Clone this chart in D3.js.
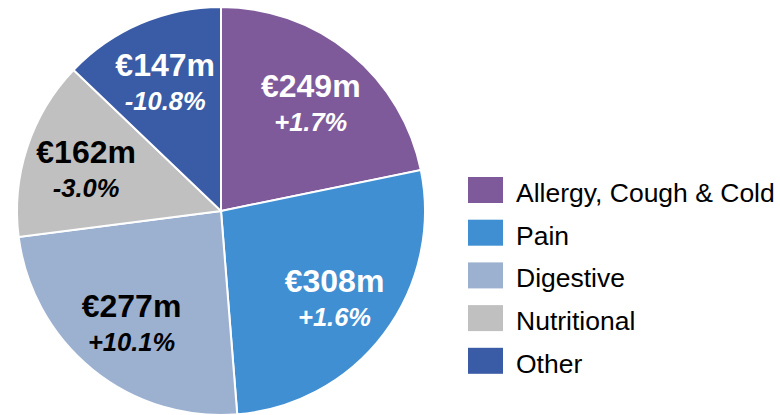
<!DOCTYPE html>
<html>
<head>
<meta charset="utf-8">
<script src="https://cdn.jsdelivr.net/npm/d3@7"></script>
<style>
  body { margin: 0; background: #fff; }
  svg { display: block; font-family: "Liberation Sans", Arial, sans-serif; }
</style>
</head>
<body>
<div id="chart"></div>
<script>
// Chart data
const categories = ["Allergy, Cough & Cold", "Pain", "Digestive", "Nutritional", "Other"];
const sales = [249, 308, 277, 162, 147];
const growth = ["+1.7%", "+1.6%", "+10.1%", "-3.0%", "-10.8%"];
const colors = ["#7f5a9b", "#3f8fd2", "#9cb0d0", "#c0c0c0", "#3a5ba5"];
const labelColors = ["#fff", "#fff", "#000", "#000", "#fff"];

const width = 780, height = 415;
const cx = 221, cy = 211, radius = 204;

const svg = d3.select("#chart")
  .append("svg")
  .attr("width", width)
  .attr("height", height);

const slices = categories.map((c, i) => ({ name: c, value: sales[i], growth: growth[i], i }));

// Keep the original order, start at 12 o'clock going clockwise
const pie = d3.pie().value(d => d.value).sort(null);
const arc = d3.arc().innerRadius(0).outerRadius(radius);
const labelArc = d3.arc().innerRadius(142).outerRadius(142);

const g = svg.append("g").attr("transform", `translate(${cx},${cy})`);

const arcs = pie(slices);

g.selectAll("path")
  .data(arcs)
  .enter()
  .append("path")
  .attr("d", arc)
  .attr("fill", d => colors[d.data.i])
  .attr("stroke", "#fff")
  .attr("stroke-width", 2);

// Slice labels: value on top, growth in italics below
const labels = g.selectAll("g.label")
  .data(arcs)
  .enter()
  .append("g")
  .attr("class", "label")
  .attr("transform", d => `translate(${labelArc.centroid(d)})`)
  .attr("fill", d => labelColors[d.data.i])
  .attr("text-anchor", "middle")
  .attr("font-weight", "bold");

labels.append("text")
  .attr("y", -4)
  .attr("font-size", "32px")
  .text(d => `€${d.data.value}m`);

labels.append("text")
  .attr("y", 30)
  .attr("font-size", "25.5px")
  .attr("font-style", "italic")
  .text(d => d.data.growth);

// Legend
const legend = svg.append("g").attr("transform", "translate(468,177)");

const rows = legend.selectAll("g")
  .data(slices)
  .enter()
  .append("g")
  .attr("transform", (d, i) => `translate(0,${i * 42.7})`);

rows.append("rect")
  .attr("width", 35)
  .attr("height", 26)
  .attr("fill", d => colors[d.i]);

rows.append("text")
  .attr("x", 48)
  .attr("y", 25)
  .attr("font-size", "26.5px")
  .attr("fill", "#000")
  .text(d => d.name);
</script>
</body>
</html>
